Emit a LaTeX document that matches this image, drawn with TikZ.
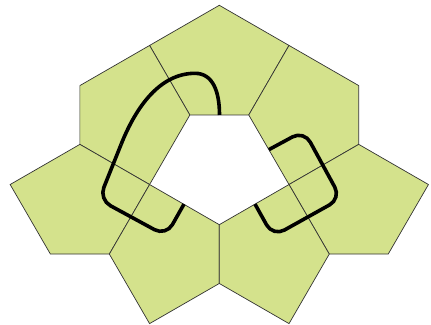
\documentclass[tikz,border=0pt]{standalone}
\begin{document}
\begin{tikzpicture}[x=1pt,y=-0.9975pt,
  tile/.style={fill=tilegreen,draw=black!80,line width=0.7pt,line join=miter},
  strand/.style={draw=black,line width=3.6pt},
  cornered/.style={strand,rounded corners=13pt}]
\definecolor{tilegreen}{RGB}{212,226,140}
\useasboundingbox (0,0) rectangle (431,324.81);
% vertices
\coordinate (A) at (219.3,5.3);
\coordinate (TLo) at (149.59,45.55);
\coordinate (TRo) at (289.01,45.55);
\coordinate (TL) at (189.84,115.27);
\coordinate (TR) at (248.76,115.27);
\coordinate (ULt) at (79.87,85.80);
\coordinate (ULb) at (79.87,144.73);
\coordinate (URt) at (358.73,85.80);
\coordinate (URb) at (358.73,144.73);
\coordinate (L) at (149.59,184.99);
\coordinate (R) at (289.01,184.99);
\coordinate (B) at (219.3,225.24);
\coordinate (Ll) at (10.15,184.98);
\coordinate (Lbl) at (50.40,254.70);
\coordinate (Lbr) at (109.34,254.71);
\coordinate (Rr) at (428.45,184.98);
\coordinate (Rbr) at (388.20,254.70);
\coordinate (Rbl) at (329.26,254.71);
\coordinate (Bb) at (219.3,284.17);
\coordinate (LLb) at (149.58,324.42);
\coordinate (LRb) at (289.02,324.42);
% tiles
\draw[tile] (TL) -- (TR) -- (TRo) -- (A) -- (TLo) -- cycle;
\draw[tile] (TL) -- (TLo) -- (ULt) -- (ULb) -- (L) -- cycle;
\draw[tile] (TR) -- (TRo) -- (URt) -- (URb) -- (R) -- cycle;
\draw[tile] (ULb) -- (Ll) -- (Lbl) -- (Lbr) -- (L) -- cycle;
\draw[tile] (URb) -- (Rr) -- (Rbr) -- (Rbl) -- (R) -- cycle;
\draw[tile] (L) -- (Lbr) -- (LLb) -- (Bb) -- (B) -- cycle;
\draw[tile] (R) -- (Rbl) -- (LRb) -- (Bb) -- (B) -- cycle;
% strands
\coordinate (s1a) at (184,204.6);
\coordinate (s1b) at (166,236.5);
\coordinate (s1c) at (99,200);
\coordinate (s1d) at (121,145);
\coordinate (s1e) at (195,73.5);
\coordinate (s1f) at (219.5,115.27);
\draw[cornered] (s1a) -- (s1b) -- (s1c) -- (s1d);
\draw[strand] (s1d) .. controls (136,107) and (160,73.5) .. (s1e)
  .. controls (213,73.5) and (219.5,92) .. (s1f);
\coordinate (s2a) at (268.9,150);
\coordinate (s2b) at (304,131);
\coordinate (s2c) at (341,199);
\coordinate (s2d) at (273,237);
\coordinate (s2e) at (255,204.6);
\draw[cornered] (s2a) -- (s2b) -- (s2c) -- (s2d) -- (s2e);
\end{tikzpicture}
\end{document}
